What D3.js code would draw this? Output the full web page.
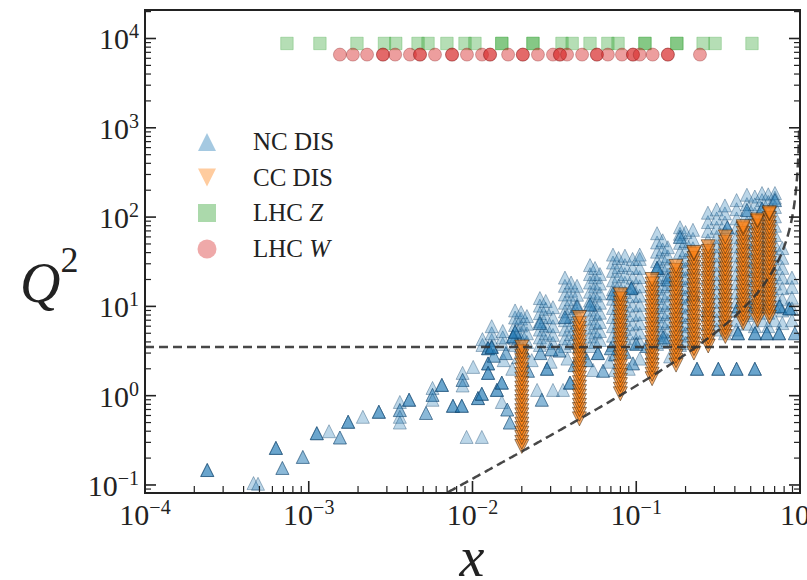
<!DOCTYPE html>
<html>
<head>
<meta charset="utf-8">
<script src="https://cdn.jsdelivr.net/npm/d3@7"></script>
<style>
  html, body { margin: 0; padding: 0; background: #fff; }
  svg { display: block; }
  text { font-family: "Liberation Serif", "DejaVu Serif", serif; fill: #222; }
</style>
</head>
<body>
<svg id="chart" width="807" height="580"></svg>
<script>
// ---- Kinematic coverage: NC DIS, CC DIS, LHC Z and W ----

// NC DIS: columns of Q^2 values (GeV^2) measured at a common x
const ncColumns = [
  [0.0115, [3.7, 4.3]],
  [0.0131, [3.6, 4.2, 5.0, 6.0]],
  [0.0153, [3.8, 4.5, 5.3]],
  [0.0182, [3.7, 4.4, 5.2, 6.2, 7.5, 9.0]],
  [0.0198, [3.6, 4.3, 5.1, 6.1, 7.3, 8.6]],
  [0.0215, [4.0, 5.0, 6.4, 7.8]],
  [0.0258, [3.7, 4.5, 5.5, 6.8, 8.4, 10.2, 12.4]],
  [0.028, [4.1, 5.0, 6.1, 7.6, 9.4, 11.5]],
  [0.031, [3.9, 4.8, 6.0, 7.5, 9.8]],
  [0.0367, [3.6, 4.4, 5.5, 7.0, 8.8, 11.0, 13.6, 17.0, 21.0]],
  [0.040, [3.9, 4.9, 6.1, 7.7, 9.6, 12.0, 15.0, 18.5]],
  [0.0435, [4.0, 5.2, 6.6, 8.4, 10.5, 13.5, 17.0]],
  [0.0522, [3.6, 4.6, 5.8, 7.3, 9.2, 11.6, 14.6, 18.5, 23.0, 29.0]],
  [0.056, [4.0, 5.1, 6.5, 8.2, 10.4, 13.2, 16.7, 21.2, 26.9]],
  [0.060, [4.2, 5.3, 6.7, 8.5, 11.0, 14.0, 18.0, 23.0]],
  [0.0721, [3.7, 4.7, 6.0, 7.6, 9.6, 12.2, 15.5, 19.6, 25.0, 31.0, 38.0]],
  [0.078, [4.1, 5.2, 6.6, 8.4, 10.6, 13.5, 17.1, 21.7, 27.5, 34.8]],
  [0.0853, [4.4, 5.6, 7.1, 9.0, 11.4, 14.5, 18.4, 23.0, 29.0, 37.0]],
  [0.095, [3.9, 5.0, 6.3, 8.0, 10.2, 13.0, 16.5, 21.0, 27.0, 34.0]],
  [0.105, [4.0, 5.1, 6.5, 8.2, 10.4, 13.2, 16.8, 21.3, 27.0, 34.0, 38.0]],
  [0.134, [3.8, 4.8, 6.1, 7.7, 9.8, 12.4, 15.8, 20.0, 25.4, 32.0, 41.0, 52.0, 66.0]],
  [0.145, [4.0, 5.1, 6.5, 8.2, 10.4, 13.2, 16.8, 21.3, 27.0, 34.3, 43.5, 55.0]],
  [0.156, [4.2, 5.3, 6.8, 8.6, 11.0, 14.0, 17.8, 22.6, 28.7, 36.4, 46.0]],
  [0.185, [3.7, 4.7, 6.0, 7.6, 9.7, 12.3, 15.6, 19.8, 25.0, 32.0, 40.6, 51.5, 65.0, 77.0]],
  [0.20, [3.9, 5.0, 6.3, 8.0, 10.2, 12.9, 16.4, 20.8, 26.4, 33.5, 42.5, 54.0, 68.0]],
  [0.222, [4.1, 5.2, 6.6, 8.4, 10.7, 13.6, 17.2, 21.9, 27.8, 35.3, 44.8, 57.0, 72.0]],
  [0.274, [5.0, 6.4, 8.1, 10.3, 13.1, 16.6, 21.0, 26.8, 34.0, 43.0, 55.0, 70.0, 88.0, 112.0]],
  [0.31, [5.5, 7.0, 8.9, 11.3, 14.3, 18.2, 23.1, 29.3, 37.2, 47.2, 60.0, 76.1, 96.6, 122.0]],
  [0.348, [5.0, 6.3, 8.0, 10.2, 12.9, 16.4, 20.8, 26.4, 33.5, 42.5, 54.0, 68.6, 87.0, 110.0, 135.0]],
  [0.41, [5.5, 7.0, 8.9, 11.3, 14.3, 18.2, 23.1, 29.3, 37.2, 47.2, 60.0, 76.1, 96.6, 122.6, 155.0]],
  [0.474, [6.4, 8.0, 10.1, 12.8, 16.3, 20.7, 26.3, 33.4, 42.4, 53.8, 68.3, 86.7, 110.0, 140.0, 178.0]],
  [0.53, [6.0, 8.5, 11.5, 15.0, 19.5, 25.0, 32.0, 41.0, 52.0, 67.0, 85.0, 109.0, 139.0, 170.0]],
  [0.586, [7.0, 10.0, 13.0, 17.0, 22.0, 28.0, 36.0, 46.0, 59.0, 75.0, 96.0, 122.0, 155.0, 186.0]],
  [0.64, [6.0, 8.5, 11.5, 15.5, 20.0, 26.0, 34.0, 43.0, 55.0, 71.0, 91.0, 116.0, 148.0, 180.0]],
  [0.703, [7.0, 10.0, 13.5, 18.0, 23.0, 30.0, 38.0, 49.0, 63.0, 80.0, 102.0, 130.0, 165.0, 186.0]],
  [0.78, [6.5, 9.0, 12.0, 16.0, 21.0, 27.0, 35.0, 45.0]],
  [0.893, [7.0, 9.5, 12.5, 16.5, 21.0]]
];

// NC DIS points measured on several nuclei: [x, Q^2, number of measurements]
const ncRepeated = [
  [2.4e-4, 0.147, 3], [4.6e-4, 0.105, 1], [4.9e-4, 0.103, 1],
  [6.3e-4, 0.26, 3], [6.9e-4, 0.155, 2], [9.2e-4, 0.206, 2],
  [1.12e-3, 0.38, 3], [1.33e-3, 0.40, 1], [1.55e-3, 0.34, 2],
  [1.74e-3, 0.51, 3], [2.14e-3, 0.58, 1], [2.68e-3, 0.66, 3],
  [3.6e-3, 0.85, 1], [3.6e-3, 0.69, 2], [3.6e-3, 0.58, 1], [3.6e-3, 0.50, 1],
  [4.1e-3, 0.9, 3], [5.2e-3, 0.64, 2],
  [5.7e-3, 1.22, 1], [5.7e-3, 1.02, 2], [5.7e-3, 0.9, 1],
  [6.5e-3, 1.32, 3], [7.6e-3, 0.77, 3], [8.6e-3, 0.77, 3],
  [8.7e-3, 1.8, 1], [8.7e-3, 1.5, 2], [8.7e-3, 1.3, 1],
  [9.2e-3, 0.345, 1], [0.0114, 0.345, 1],
  [0.0101, 2.1, 1], [0.0108, 0.94, 3], [0.0114, 1.05, 3],
  [0.01245, 3.4, 3], [0.01245, 2.3, 3], [0.01245, 1.8, 3],
  [0.0141, 1.16, 3], [0.0151, 0.85, 1], [0.0163, 0.7, 2], [0.0169, 0.5, 2],
  [0.0151, 1.4, 3], [0.0177, 4.6, 3], [0.0218, 1.9, 2],
  [0.0248, 1.16, 1], [0.0265, 0.9, 2], [0.0285, 2.0, 3],
  [0.031, 1.16, 1], [0.0357, 1.16, 1], [0.0394, 1.4, 3],
  [0.0545, 1.94, 1], [0.0583, 3.0, 3], [0.0627, 1.9, 2],
  [0.0741, 2.9, 2], [0.0741, 1.94, 1],
  [0.0955, 2.3, 2], [0.116, 3.6, 2], [0.146, 4.5, 2], [0.161, 2.75, 1],
  [0.0135, 2.8, 2], [0.0155, 2.5, 1], [0.016, 3.0, 2], [0.0175, 2.0, 1],
  [0.019, 2.7, 1], [0.0205, 3.2, 2], [0.023, 2.5, 1], [0.026, 3.0, 2],
  [0.030, 2.4, 1], [0.034, 3.2, 2], [0.038, 2.6, 1], [0.042, 2.2, 2],
  [0.047, 3.0, 1], [0.05, 2.5, 2], [0.068, 2.4, 1], [0.085, 3.1, 2],
  [0.09, 2.0, 1], [0.105, 2.6, 1], [0.125, 3.0, 1],
  [0.235, 2.0, 3], [0.317, 2.0, 3], [0.41, 2.0, 3], [0.53, 2.0, 3],
  [0.418, 5.0, 3], [0.531, 5.0, 3], [0.628, 5.0, 3], [0.745, 5.0, 3],
  [0.42, 10.0, 2], [0.53, 10.5, 2], [0.63, 10.0, 2], [0.75, 10.0, 3],
  [0.86, 9.5, 3], [0.93, 5.0, 2],
  [0.0131, 3.5, 3], [0.0182, 5.2, 2], [0.0258, 6.5, 2], [0.0367, 7.6, 2],
  [0.0435, 10.0, 2], [0.0522, 10.5, 2], [0.0721, 14.0, 2], [0.0933, 16.0, 3],
  [0.134, 27.0, 3], [0.185, 60.0, 2], [0.36, 77.0, 2], [0.474, 120.0, 2],
  [0.586, 125.0, 2], [0.703, 155.0, 2], [0.222, 14.0, 2], [0.274, 9.0, 2],
  [0.156, 20.0, 2], [0.0303, 3.3, 2], [0.045, 3.6, 2], [0.07, 3.4, 2], [0.1, 3.8, 2]
];

// CC DIS (neutrino) columns: [x, Q^2 values]
const ccColumns = [
  [0.02, [0.27, 0.30, 0.34, 0.38, 0.43, 0.48, 0.54, 0.61, 0.68, 0.77, 0.86, 0.97, 1.09, 1.22, 1.37, 1.54, 1.73, 1.95, 2.2, 2.47, 2.77, 3.1, 3.5]],
  [0.045, [0.55, 0.62, 0.70, 0.78, 0.88, 0.99, 1.11, 1.25, 1.4, 1.58, 1.77, 2.0, 2.24, 2.52, 2.83, 3.18, 3.57, 4.0, 4.5, 5.1, 5.7, 6.4, 7.5]],
  [0.08, [1.05, 1.18, 1.33, 1.49, 1.68, 1.88, 2.12, 2.38, 2.67, 3.0, 3.37, 3.79, 4.25, 4.78, 5.37, 6.03, 6.77, 7.6, 8.54, 9.6, 10.8, 12.1, 13.5]],
  [0.125, [1.55, 1.74, 1.96, 2.2, 2.47, 2.77, 3.11, 3.5, 3.93, 4.41, 4.96, 5.57, 6.25, 7.02, 7.89, 8.86, 9.95, 11.2, 12.6, 14.1, 15.8, 17.8, 20.0]],
  [0.175, [2.2, 2.47, 2.77, 3.11, 3.5, 3.93, 4.41, 4.96, 5.57, 6.25, 7.02, 7.89, 8.86, 9.95, 11.2, 12.6, 14.1, 15.8, 17.8, 20.0, 22.4, 25.2, 28.0]],
  [0.225, [3.0, 3.37, 3.79, 4.25, 4.78, 5.37, 6.03, 6.77, 7.6, 8.54, 9.6, 10.8, 12.1, 13.6, 15.2, 17.1, 19.2, 21.6, 24.3, 27.2, 30.6, 34.4, 38.6, 40.0]],
  [0.275, [3.6, 4.04, 4.54, 5.1, 5.72, 6.43, 7.22, 8.1, 9.1, 10.2, 11.5, 12.9, 14.5, 16.3, 18.3, 20.5, 23.0, 25.9, 29.0, 32.6, 36.6, 41.1, 46.5]],
  [0.35, [4.6, 5.16, 5.8, 6.5, 7.3, 8.2, 9.2, 10.3, 11.6, 13.0, 14.6, 16.4, 18.4, 20.7, 23.2, 26.1, 29.3, 32.9, 36.9, 41.4, 46.5, 52.2, 60.0]],
  [0.45, [6.5, 7.3, 8.2, 9.2, 10.3, 11.6, 13.0, 14.6, 16.4, 18.4, 20.7, 23.2, 26.1, 29.3, 32.9, 36.9, 41.4, 46.5, 52.2, 58.6, 65.8, 73.9, 78.0]],
  [0.55, [7.0, 7.9, 8.8, 9.9, 11.1, 12.5, 14.0, 15.7, 17.7, 19.8, 22.3, 25.0, 28.1, 31.5, 35.4, 39.7, 44.6, 50.0, 56.2, 63.0, 70.8, 79.4, 89.1, 93.0]],
  [0.65, [7.6, 8.5, 9.6, 10.8, 12.1, 13.6, 15.2, 17.1, 19.2, 21.5, 24.2, 27.1, 30.4, 34.2, 38.3, 43.0, 48.3, 54.2, 60.8, 68.3, 76.6, 86.0, 96.5, 108.0, 112.0]]
];

// LHC Z and W boson production (p-Pb): x values at Q^2 = M_V^2
const lhcZx = [7.36e-4, 1.17e-3, 1.97e-3, 2.9e-3, 3.4e-3, 4.65e-3, 5.35e-3, 6.98e-3,
  9.0e-3, 0.01035, 0.0151, 0.0151, 0.0234, 0.0234, 0.0352, 0.0406, 0.0522, 0.0671,
  0.0774, 0.113, 0.113, 0.177, 0.177, 0.256, 0.303, 0.509];
const lhcZQ2 = 8800;
const lhcWx = [1.55e-3, 1.86e-3, 2.27e-3, 2.84e-3, 2.84e-3, 3.37e-3, 4.15e-3, 4.78e-3,
  4.78e-3, 5.9e-3, 7.5e-3, 7.5e-3, 9.25e-3, 0.01143, 0.0128, 0.0128, 0.0165, 0.0203,
  0.0203, 0.0251, 0.031, 0.0342, 0.0342, 0.0378, 0.0467, 0.0575, 0.0575, 0.0671,
  0.0818, 0.0955, 0.0955, 0.105, 0.126, 0.156, 0.156, 0.245];
const lhcWQ2 = 6600;

// Kinematic cuts
const q2Cut = 3.5;      // GeV^2
const w2Cut = 12.5;     // GeV^2
const mN2 = 0.938 * 0.938;

// Axis tick values
const xMajor = [1e-4, 1e-3, 1e-2, 1e-1, 1];
const xExp = ["\u22124", "\u22123", "\u22122", "\u22121", "0"];
const yMajor = [1e-1, 1, 10, 100, 1000, 10000];
const yExp = ["\u22121", "0", "1", "2", "3", "4"];

const legendItems = [
  { key: "nc", label: ["NC DIS"] },
  { key: "cc", label: ["CC DIS"] },
  { key: "z", label: ["LHC ", "Z"] },
  { key: "w", label: ["LHC ", "W"] }
];

// ---------------- drawing ----------------
const svg = d3.select("#chart");
const L = 145, R = 800, T = 10, B = 493;

const x = d3.scaleLog().domain([1e-4, 1]).range([L, R]);
const y = d3.scaleLog().domain([0.0813, 20850]).range([B, T]);

svg.append("defs").append("clipPath").attr("id", "plotClip")
  .append("rect").attr("x", L).attr("y", T).attr("width", R - L).attr("height", B - T);

const plot = svg.append("g").attr("clip-path", "url(#plotClip)");

const styles = {
  nc: { fill: "#1f77b4", fo: 0.3, stroke: "#16466e", so: 0.42 },
  cc: { fill: "#ff7f0e", fo: 0.62, stroke: "#3a2208", so: 0.6 },
  z:  { fill: "#2ca02c", fo: 0.35, stroke: "#2ca02c", so: 0.3 },
  w:  { fill: "#d62728", fo: 0.45, stroke: "#7a1515", so: 0.35 }
};

function markerPath(kind, s) {
  const h = s / 2;
  if (kind === "nc") return `M0,${-h}L${h},${h}L${-h},${h}Z`;
  if (kind === "cc") return `M0,${h}L${h},${-h}L${-h},${-h}Z`;
  if (kind === "z") return `M${-h},${-h}H${h}V${h}H${-h}Z`;
  return d3.symbol(d3.symbolCircle, Math.PI * h * h)();
}

function drawPoints(kind, pts, size) {
  const st = styles[kind];
  plot.append("g").selectAll("path").data(pts).join("path")
    .attr("d", markerPath(kind, size))
    .attr("transform", d => `translate(${x(d[0])},${y(d[1])})`)
    .attr("fill", st.fill).attr("fill-opacity", st.fo)
    .attr("stroke", st.stroke).attr("stroke-opacity", st.so)
    .attr("stroke-width", 0.9);
}

// NC DIS
const ncPts = [];
ncColumns.forEach(([xv, qs]) => qs.forEach(q => ncPts.push([xv, q])));
ncRepeated.forEach(([xv, q, n]) => { for (let i = 0; i < n; i++) ncPts.push([xv, q]); });
drawPoints("nc", ncPts, 13);

// CC DIS
const ccPts = [];
ccColumns.forEach(([xv, qs]) => qs.forEach(q => ccPts.push([xv, q])));
drawPoints("cc", ccPts, 14);

// LHC
drawPoints("z", lhcZx.map(v => [v, lhcZQ2]), 12.5);
drawPoints("w", lhcWx.map(v => [v, lhcWQ2]), 13);

// Cut lines
const cutG = plot.append("g").attr("fill", "none").attr("stroke", "#333")
  .attr("stroke-opacity", 0.9).attr("stroke-width", 2.5).attr("stroke-dasharray", "9,5");
cutG.append("line").attr("x1", x(1e-4)).attr("x2", x(1))
  .attr("y1", y(q2Cut)).attr("y2", y(q2Cut));
const w2Line = d3.range(-2.3, -0.0005, 0.005).map(lx => {
  const xv = Math.pow(10, lx);
  return [xv, (w2Cut - mN2) * xv / (1 - xv)];
});
cutG.append("path")
  .attr("d", d3.line().x(d => x(d[0])).y(d => y(Math.min(d[1], 1e6)))(w2Line));

// Axes frame and ticks
const axG = svg.append("g").attr("stroke", "#222");
axG.append("rect").attr("x", L).attr("y", T).attr("width", R - L).attr("height", B - T)
  .attr("fill", "none").attr("stroke-width", 2);

function minors(lo, hi) {
  const out = [];
  for (let e = Math.floor(Math.log10(lo)); e <= Math.ceil(Math.log10(hi)); e++)
    for (let m = 2; m <= 9; m++) {
      const v = m * Math.pow(10, e);
      if (v > lo && v < hi) out.push(v);
    }
  return out;
}
const yMinor = minors(y.domain()[0], y.domain()[1]);
const xMinor = minors(1e-4, 1);

// left and right ticks
[[L, 1], [R, -1]].forEach(([x0, dir]) => {
  axG.selectAll(null).data(yMajor).join("line")
    .attr("x1", x0).attr("x2", x0 + dir * 11).attr("y1", d => y(d)).attr("y2", d => y(d))
    .attr("stroke-width", 1.6);
  axG.selectAll(null).data(yMinor).join("line")
    .attr("x1", x0).attr("x2", x0 + dir * 6).attr("y1", d => y(d)).attr("y2", d => y(d))
    .attr("stroke-width", 1.2);
});
// bottom ticks
axG.selectAll(null).data(xMajor).join("line")
  .attr("y1", B).attr("y2", B - 12).attr("x1", d => x(d)).attr("x2", d => x(d))
  .attr("stroke-width", 1.6);
axG.selectAll(null).data(xMinor).join("line")
  .attr("y1", B).attr("y2", B - 7).attr("x1", d => x(d)).attr("x2", d => x(d))
  .attr("stroke-width", 1.2);

// tick labels
const labG = svg.append("g");
yMajor.forEach((v, i) => {
  const t = labG.append("text").attr("x", 139).attr("y", y(v) + 11)
    .attr("text-anchor", "end").attr("font-size", 30);
  t.append("tspan").text("10");
  t.append("tspan").attr("dy", -11).attr("font-size", 20).text(yExp[i]);
});
xMajor.forEach((v, i) => {
  const t = labG.append("text").attr("x", x(v)).attr("y", 525)
    .attr("text-anchor", "middle").attr("font-size", 30);
  t.append("tspan").text("10");
  t.append("tspan").attr("dy", -11).attr("font-size", 20).text(xExp[i]);
});

// axis titles
const qt = svg.append("text").attr("x", 20).attr("y", 302).attr("font-size", 56)
  .attr("font-style", "italic");
qt.append("tspan").text("Q");
qt.append("tspan").attr("dy", -30).attr("font-size", 36).attr("font-style", "normal").text("2");
svg.append("text").attr("x", 472).attr("y", 576).attr("text-anchor", "middle")
  .attr("font-size", 56).attr("font-style", "italic").text("x");

// legend
const legY = [142, 177.5, 213, 249];
const legG = svg.append("g");
legendItems.forEach((it, i) => {
  const st = styles[it.key];
  legG.append("path").attr("d", markerPath(it.key, it.key === "w" ? 19 : 18))
    .attr("transform", `translate(207,${legY[i]})`)
    .attr("fill", st.fill).attr("fill-opacity", 0.4).attr("stroke", "none");
  const t = legG.append("text").attr("x", 253).attr("y", legY[i] + 8).attr("font-size", 25);
  t.append("tspan").text(it.label[0]);
  if (it.label[1]) t.append("tspan").attr("font-style", "italic").text(it.label[1]);
});
</script>
</body>
</html>
